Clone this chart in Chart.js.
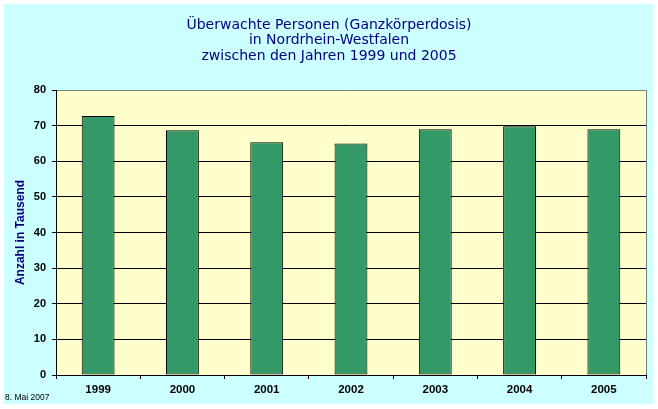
<!DOCTYPE html>
<html><head><meta charset="utf-8">
<script src="https://cdn.jsdelivr.net/npm/chart.js@4/dist/chart.umd.min.js"></script>
<style>html,body{margin:0;padding:0;background:#fff;overflow:hidden;} canvas{display:block;}</style>
</head><body>
<canvas id="c" width="658" height="409"></canvas>
<script>
const years = ['1999', '2000', '2001', '2002', '2003', '2004', '2005'];
const persons = [72.7, 68.7, 65.3, 65.0, 69.0, 69.8, 69.0];
const yMin = 0, yMax = 80, yStep = 10;
const titleLines = ['Überwachte Personen (Ganzkörperdosis)', 'in Nordrhein-Westfalen', 'zwischen den Jahren 1999 und 2005'];
const yTitle = 'Anzahl in Tausend';
const dateNote = '8. Mai 2007';

const decor = {
  id: 'decor',
  beforeDraw(chart) {
    const ctx = chart.ctx, a = chart.chartArea;
    ctx.save();
    ctx.fillStyle = '#ffffff';
    ctx.fillRect(0, 0, chart.width, chart.height);
    ctx.fillStyle = '#ccffff';
    ctx.fillRect(4, 4, 649, 400);
    ctx.fillStyle = '#ffffcc';
    ctx.fillRect(a.left, a.top, a.right - a.left, a.bottom - a.top);
    ctx.restore();
  },
  afterDraw(chart) {
    const ctx = chart.ctx, a = chart.chartArea;
    ctx.save();
    ctx.strokeStyle = '#808080';
    ctx.lineWidth = 1;
    ctx.beginPath();
    ctx.moveTo(Math.round(a.right) + 0.5, a.top);
    ctx.lineTo(Math.round(a.right) + 0.5, a.bottom);
    ctx.stroke();
    ctx.fillStyle = '#000080';
    ctx.font = '14px "DejaVu Sans"';
    ctx.textAlign = 'center';
    ctx.textBaseline = 'middle';
    const cx = 329;
    titleLines.forEach((t, i) => ctx.fillText(t, cx, 25 + i * 15.5));
    ctx.fillStyle = '#000000';
    ctx.font = '8.5px "Liberation Sans"';
    ctx.textAlign = 'left';
    ctx.fillText(dateNote, 5, 398);
    ctx.restore();
  }
};

new Chart(document.getElementById('c'), {
  type: 'bar',
  data: {
    labels: years,
    datasets: [{
      data: persons,
      backgroundColor: '#339966',
      borderColor: '#000000',
      borderWidth: 1,
      borderSkipped: false,
      categoryPercentage: 1,
      barPercentage: 0.39
    }]
  },
  options: {
    responsive: false,
    devicePixelRatio: 1,
    animation: false,
    layout: { padding: { top: 90, right: 12, bottom: 0, left: 0 } },
    plugins: { legend: { display: false }, tooltip: { enabled: false }, title: { display: false } },
    scales: {
      x: {
        afterFit(s) { s.height = 34; },
        grid: { display: true, drawOnChartArea: false, drawTicks: true, tickLength: 4, offset: true, color: '#000000' },
        border: { color: '#000000', width: 1 },
        ticks: { color: '#000000', font: { family: 'Liberation Sans', size: 11.5, weight: 'bold' }, padding: 4, maxRotation: 0 }
      },
      y: {
        min: yMin, max: yMax,
        afterFit(s) { s.width = 56; },
        grid: {
          color: (c) => (c.tick && c.tick.value === yMax) ? '#808080' : '#000000',
          tickColor: '#000000',
          tickLength: 4,
          lineWidth: 1
        },
        border: { color: '#000000', width: 1 },
        ticks: { stepSize: yStep, color: '#000000', font: { family: 'Liberation Sans', size: 11, weight: 'bold' }, padding: 6 },
        title: { display: true, text: yTitle, color: '#000080', font: { family: 'Liberation Sans', size: 12, weight: 'bold' }, padding: { top: 13, bottom: 0 } }
      }
    }
  },
  plugins: [decor]
});
</script>
</body></html>
